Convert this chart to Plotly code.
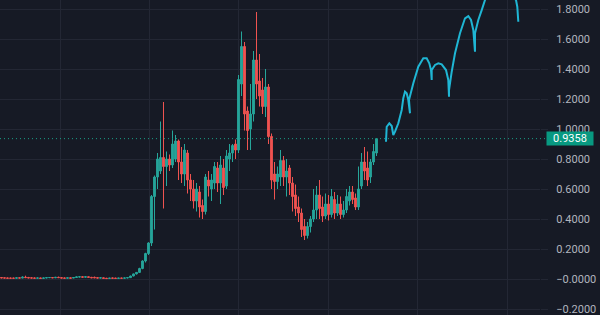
import plotly.graph_objects as go

# Candle data (index, open, high, low, close)
opens = [0.010,0.008,0.007,0.006,0.006,0.005,0.008,0.006,0.012,0.010,
         0.008,0.007,0.005,0.007,0.004,0.007,0.009,0.010,0.008,0.011,
         0.009,0.007,0.005,0.008,0.006,0.010,0.013,0.015,0.012,0.015,
         0.011,0.011,0.009,0.006,0.008,0.005,0.003,0.007,0.006,0.004,
         0.006,0.005,0.007,0.009,0.020,0.034,0.044,0.070,0.120,0.170,
         0.240,0.550,0.680,0.720,0.810,0.750,0.800,0.760,0.800,0.920,
         0.780,0.700,0.840,0.660,0.600,0.520,0.580,0.490,0.450,0.660,
         0.600,0.640,0.740,0.640,0.740,0.620,0.800,0.840,0.900,0.860,
         1.300,1.550,1.120,1.000,1.100,1.460,1.320,1.260,1.150,1.280,
         0.950,0.700,0.650,0.680,0.790,0.680,0.740,0.640,0.560,0.480,
         0.440,0.350,0.290,0.350,0.400,0.460,0.560,0.480,0.420,0.500,
         0.430,0.530,0.440,0.500,0.430,0.460,0.520,0.580,0.540,0.480,
         0.620,0.780,0.740,0.680,0.780,0.840]
highs = [0.012,0.010,0.009,0.009,0.008,0.009,0.010,0.018,0.022,0.014,
         0.011,0.010,0.009,0.009,0.008,0.011,0.012,0.012,0.014,0.016,
         0.013,0.010,0.009,0.010,0.012,0.016,0.018,0.018,0.018,0.017,
         0.014,0.016,0.012,0.010,0.010,0.008,0.007,0.009,0.008,0.007,
         0.008,0.008,0.010,0.022,0.036,0.046,0.075,0.125,0.175,0.245,
         0.560,0.690,0.840,1.050,1.180,0.850,0.830,0.990,0.960,0.930,
         0.880,0.900,0.860,0.700,0.660,0.640,0.620,0.530,0.700,0.720,
         0.700,0.780,0.780,0.820,0.800,0.860,0.900,0.900,0.930,1.360,
         1.650,1.580,1.150,1.300,1.520,1.780,1.500,1.340,1.400,1.300,
         0.970,0.780,0.750,0.860,0.820,0.800,0.760,0.680,0.630,0.550,
         0.470,0.400,0.380,0.420,0.600,0.620,0.660,0.550,0.570,0.560,
         0.600,0.580,0.560,0.550,0.520,0.600,0.620,0.620,0.570,0.750,
         0.840,0.880,0.850,0.800,0.900,0.940]
lows = [0.006,0.005,0.004,0.004,0.004,0.004,0.005,0.005,0.008,0.006,
        0.005,0.004,0.004,0.003,0.003,0.005,0.006,0.006,0.006,0.007,
        0.005,0.004,0.004,0.004,0.005,0.008,0.010,0.010,0.010,0.009,
        0.006,0.006,0.005,0.005,0.003,0.002,0.002,0.004,0.003,0.003,
        0.004,0.004,0.005,0.008,0.018,0.030,0.040,0.065,0.110,0.160,
        0.220,0.330,0.600,0.700,0.470,0.620,0.720,0.740,0.780,0.660,
        0.640,0.620,0.570,0.520,0.470,0.450,0.410,0.400,0.430,0.550,
        0.520,0.600,0.580,0.500,0.560,0.600,0.720,0.780,0.800,0.840,
        1.220,0.990,0.860,0.860,1.050,1.200,1.150,1.100,1.080,0.900,
        0.600,0.530,0.600,0.620,0.620,0.550,0.560,0.450,0.420,0.380,
        0.280,0.260,0.270,0.310,0.380,0.400,0.400,0.380,0.400,0.390,
        0.410,0.400,0.420,0.400,0.410,0.440,0.490,0.500,0.460,0.460,
        0.600,0.660,0.620,0.640,0.760,0.820]
closes = [0.007,0.006,0.005,0.005,0.005,0.008,0.006,0.012,0.009,0.007,
          0.006,0.005,0.007,0.004,0.007,0.009,0.010,0.008,0.011,0.009,
          0.006,0.005,0.008,0.005,0.010,0.014,0.015,0.012,0.015,0.011,
          0.008,0.008,0.006,0.008,0.004,0.003,0.006,0.005,0.004,0.006,
          0.005,0.007,0.009,0.020,0.034,0.044,0.070,0.120,0.170,0.240,
          0.550,0.680,0.800,0.810,0.750,0.800,0.760,0.900,0.920,0.780,
          0.700,0.860,0.660,0.600,0.520,0.600,0.480,0.450,0.680,0.620,
          0.660,0.750,0.640,0.760,0.610,0.820,0.840,0.890,0.860,1.330,
          1.550,1.100,0.990,1.100,1.460,1.300,1.220,1.150,1.280,0.950,
          0.660,0.650,0.700,0.790,0.680,0.720,0.640,0.550,0.470,0.440,
          0.330,0.290,0.350,0.400,0.460,0.560,0.470,0.420,0.500,0.430,
          0.550,0.440,0.500,0.430,0.460,0.550,0.580,0.530,0.480,0.600,
          0.780,0.720,0.660,0.780,0.850,0.9358]
idx = list(range(len(opens)))

# Hand-drawn cyan projection (index units, price units)
draw_x = [128.17,128.4,129.27,130.07,130.6,131.17,132.27,133.4,133.93,134.5,
          135.07,135.6,136.17,135.83,137.27,138.93,140.6,141.73,142.6,143.17,
          143.4,143.4,144.5,145.6,146.73,148.17,148.93,149.17,149.17,150.07,
          151.17,152.83,154.5,155.6,156.5,157.27,157.83,157.83,158.93,160.07,
          161.17,163.5,166.17,168.83,171.5,171.93,172.27]
draw_y = [0.915,1.015,1.038,1.02,0.96,0.982,1.038,1.127,1.205,1.249,
          1.238,1.193,1.105,1.193,1.305,1.415,1.471,1.471,1.438,1.393,
          1.327,1.393,1.427,1.438,1.431,1.393,1.327,1.215,1.26,1.382,
          1.505,1.638,1.738,1.753,1.727,1.66,1.515,1.638,1.727,1.793,
          1.86,1.94,1.967,1.913,1.86,1.815,1.715]

tick_vals = [-0.2,0.0,0.2,0.4,0.6,0.8,1.0,1.2,1.4,1.6,1.8]
tick_text = ["\u22120.2000","\u22120.0000","0.2000","0.4000","0.6000","0.8000",
             "1.0000","1.2000","1.4000","1.6000","1.8000"]

UP = "#26a69a"
DOWN = "#ef5350"
BG = "#161a25"
GRID = "#232734"

fig = go.Figure()
fig.add_trace(go.Candlestick(
    x=idx, open=opens, high=highs, low=lows, close=closes,
    increasing=dict(line=dict(color=UP, width=1), fillcolor=UP),
    decreasing=dict(line=dict(color=DOWN, width=1), fillcolor=DOWN),
    showlegend=False, hoverinfo="skip",
))
fig.add_trace(go.Scatter(
    x=draw_x, y=draw_y, mode="lines",
    line=dict(color="#1fb6d4", width=2),
    showlegend=False, hoverinfo="skip",
))

last = closes[-1]
fig.add_shape(type="line", xref="paper", yref="y", x0=0, x1=1.015,
              y0=last, y1=last,
              line=dict(color="#1a9e86", width=1, dash="1px,3px"))
fig.add_annotation(xref="paper", yref="y", x=1.012, y=last, xanchor="left",
                   yanchor="middle", text=f"{last:.4f}", showarrow=False,
                   bgcolor="#089981", width=46, height=13, align="center",
                   font=dict(color="#ffffff", size=11, family="Roboto"),
                   borderpad=0)

fig.update_layout(
    width=600, height=315,
    margin=dict(l=0, r=60, t=0, b=0),
    paper_bgcolor=BG, plot_bgcolor=BG,
    boxgap=0.15,
    font=dict(family="Roboto", size=11, color="#b2b5be"),
    xaxis=dict(range=[-0.5, 179.5], rangeslider=dict(visible=False),
               showticklabels=False, tickmode="linear", tick0=19.5, dtick=29.8,
               showgrid=True, gridcolor=GRID, gridwidth=1, zeroline=False,
               showline=False, ticks=""),
    yaxis=dict(range=[-0.24, 1.86], side="right", tickmode="array",
               tickvals=tick_vals, ticktext=tick_text, showgrid=True,
               gridcolor=GRID, gridwidth=1, zeroline=False, showline=False,
               ticks="outside", ticklen=7, tickcolor=GRID,
               ticklabelstandoff=6, ticklabeloverflow="allow",
               tickfont=dict(family="Roboto", size=11, color="#b2b5be")),
)

fig.write_html("out.html")
